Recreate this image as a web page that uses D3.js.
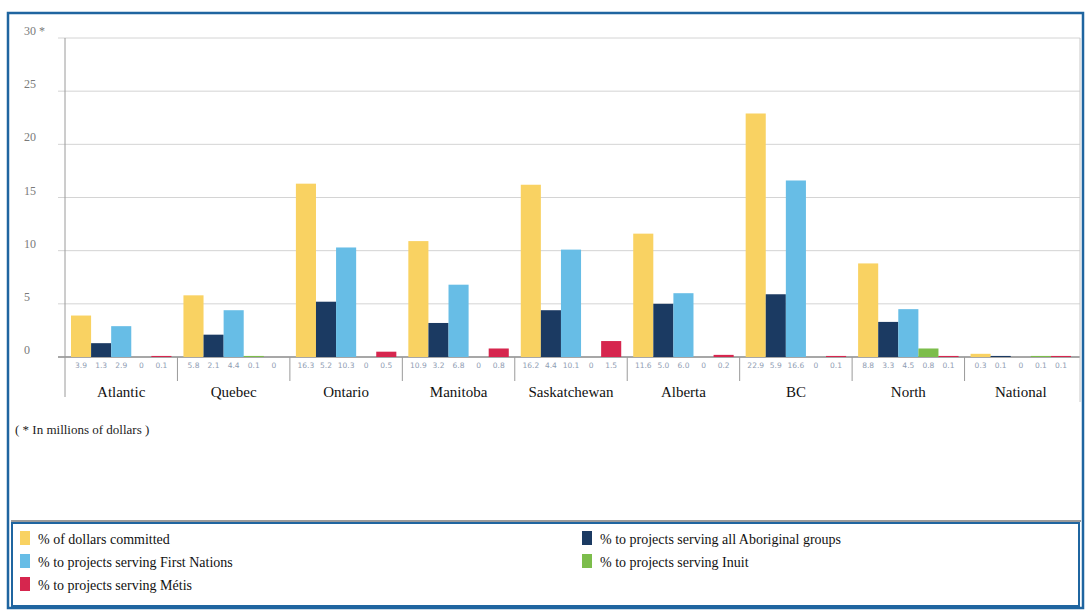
<!DOCTYPE html>
<html>
<head>
<meta charset="utf-8">
<script src="https://cdn.jsdelivr.net/npm/d3@7"></script>
<style>
  html, body { margin: 0; padding: 0; background: #fff; }
  svg { display: block; }
  .serif { font-family: "Liberation Serif", "DejaVu Serif", serif; }
</style>
</head>
<body>
<svg id="chart" width="1087" height="613"></svg>
<script>
// ---- data ----
const categories = ["Atlantic", "Quebec", "Ontario", "Manitoba", "Saskatchewan", "Alberta", "BC", "North", "National"];
const seriesNames = [
  "% of dollars committed",
  "% to projects serving all Aboriginal groups",
  "% to projects serving First Nations",
  "% to projects serving Inuit",
  "% to projects serving Métis"
];
const dollarsCommitted = [3.9, 5.8, 16.3, 10.9, 16.2, 11.6, 22.9, 8.8, 0.3];
const allAboriginal    = [1.3, 2.1, 5.2, 3.2, 4.4, 5.0, 5.9, 3.3, 0.1];
const firstNations     = [2.9, 4.4, 10.3, 6.8, 10.1, 6.0, 16.6, 4.5, 0];
const inuit            = [0, 0.1, 0, 0, 0, 0, 0, 0.8, 0.1];
const metis            = [0.1, 0, 0.5, 0.8, 1.5, 0.2, 0.1, 0.1, 0.1];
const yTicks = [0, 5, 10, 15, 20, 25, 30];
const yTickLabels = ["0", "5", "10", "15", "20", "25", "30 *"];
const note = "( * In millions of dollars )";

const seriesValues = [dollarsCommitted, allAboriginal, firstNations, inuit, metis];
const colors = ["#f9d262", "#1b3a62", "#67bde6", "#7cbd4b", "#d6264e"];

// ---- layout ----
const svg = d3.select("#chart");
const plotLeft = 65, plotRight = 1077, plotTop = 38, zeroY = 357;

const x = d3.scaleBand().domain(categories).range([plotLeft, plotRight]).padding(0);
const xs = d3.scaleBand().domain(d3.range(seriesNames.length))
  .range([6, x.bandwidth() - 6]).padding(0);
const y = d3.scaleLinear().domain([0, 30]).range([zeroY, plotTop]);

// outer frame
svg.append("rect").attr("x", 8).attr("y", 13).attr("width", 1075).attr("height", 595)
  .attr("fill", "none").attr("stroke", "#1f65a0").attr("stroke-width", 2.5);

// gridlines
svg.append("g").selectAll("line").data(yTicks).join("line")
  .attr("x1", 58).attr("x2", 1080)
  .attr("y1", d => y(d)).attr("y2", d => y(d))
  .attr("stroke", d => d === 0 ? "#8a8a8a" : "#d4d4d4")
  .attr("stroke-width", d => d === 0 ? 1.5 : 1);

// y axis line
svg.append("line").attr("x1", plotLeft).attr("x2", plotLeft)
  .attr("y1", plotTop).attr("y2", 397).attr("stroke", "#9a9a9a").attr("stroke-width", 1);
// right border
svg.append("line").attr("x1", 1080).attr("x2", 1080)
  .attr("y1", plotTop).attr("y2", 402).attr("stroke", "#c8c8c8").attr("stroke-width", 1);

// y tick labels
svg.append("g").attr("class", "serif").selectAll("text").data(yTicks).join("text")
  .attr("x", 24).attr("y", d => y(d) - 3)
  .style("font-size", "12px").attr("fill", "#7a7a7a")
  .text((d, i) => yTickLabels[i]);

// category separators
svg.append("g").selectAll("line").data(categories.slice(1)).join("line")
  .attr("x1", d => x(d)).attr("x2", d => x(d))
  .attr("y1", zeroY).attr("y2", 381)
  .attr("stroke", "#9a9a9a").attr("stroke-width", 1);

// bars
const groups = svg.append("g").selectAll("g").data(categories).join("g")
  .attr("transform", d => `translate(${x(d)},0)`);

groups.selectAll("rect").data((c, ci) => seriesValues.map((vals, si) => ({ si, v: vals[ci] })))
  .join("rect")
  .attr("x", d => xs(d.si))
  .attr("width", xs.bandwidth())
  .attr("y", d => y(d.v))
  .attr("height", d => zeroY - y(d.v))
  .attr("fill", d => colors[d.si]);

// data table labels
const fmt = v => v === 0 ? "0" : d3.format(".1f")(v);
groups.selectAll("text.val").data((c, ci) => seriesValues.map((vals, si) => ({ si, v: vals[ci] })))
  .join("text").attr("class", "val")
  .attr("x", d => xs(d.si) + xs.bandwidth() / 2)
  .attr("y", 368)
  .attr("text-anchor", "middle")
  .style("font-family", "'DejaVu Sans', sans-serif").style("font-size", "7.5px")
  .attr("fill", "#8f9db3")
  .text(d => fmt(d.v));

// category labels
svg.append("g").attr("class", "serif").selectAll("text").data(categories).join("text")
  .attr("x", d => x(d) + x.bandwidth() / 2).attr("y", 397)
  .attr("text-anchor", "middle")
  .style("font-size", "15px").attr("fill", "#111")
  .text(d => d);

// note
svg.append("text").attr("class", "serif").attr("x", 15).attr("y", 434)
  .style("font-size", "13px").attr("fill", "#222")
  .text(note);

// legend box
svg.append("line").attr("x1", 11).attr("x2", 1081).attr("y1", 521).attr("y2", 521)
  .attr("stroke", "#9a9a9a").attr("stroke-width", 2);
svg.append("rect").attr("x", 12).attr("y", 523).attr("width", 1067).attr("height", 83)
  .attr("fill", "#fff").attr("stroke", "#1f65a0").attr("stroke-width", 2);

const legendPos = [
  { col: 0, row: 0 }, { col: 1, row: 0 }, { col: 0, row: 1 }, { col: 1, row: 1 }, { col: 0, row: 2 }
];
const legendX = [20, 582], legendY = [540, 563, 586];
const leg = svg.append("g").attr("class", "serif").selectAll("g").data(seriesNames).join("g")
  .attr("transform", (d, i) => `translate(${legendX[legendPos[i].col]},${legendY[legendPos[i].row]})`);
leg.append("rect").attr("x", 0).attr("y", -9).attr("width", 10).attr("height", 14)
  .attr("fill", (d, i) => colors[i]);
leg.append("text").attr("x", 18).attr("y", 4)
  .style("font-size", "14px").attr("fill", "#111")
  .text(d => d);
</script>
</body>
</html>
